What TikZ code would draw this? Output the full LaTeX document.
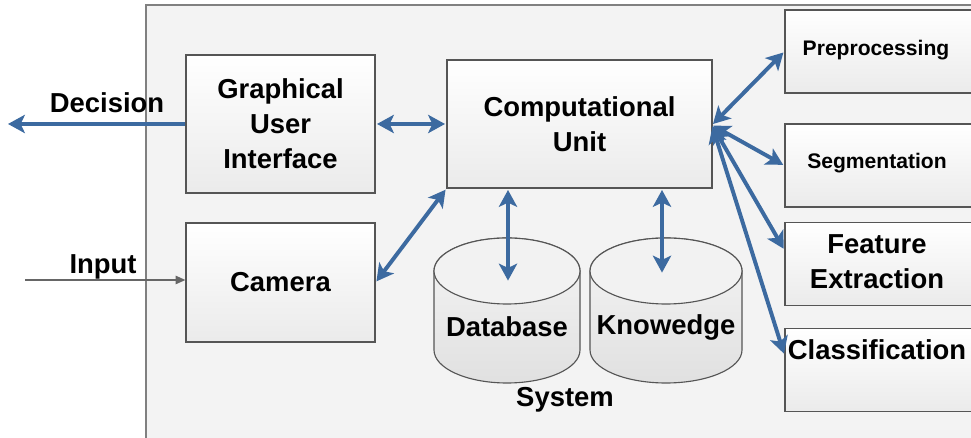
\documentclass[tikz,border=0pt]{standalone}
\usepackage{fontspec}
\setmainfont{Liberation Sans}
\usetikzlibrary{arrows.meta,positioning}
\definecolor{linkblue}{RGB}{60,106,160}
\definecolor{sysfill}{RGB}{243,243,243}
\definecolor{boxline}{RGB}{85,85,85}
\begin{document}
\begin{tikzpicture}[x=0.025cm,y=0.025cm,
	box/.style={draw=boxline,line width=0.8pt,top color=white,bottom color=black!8,inner sep=0pt},
	bigtext/.style={font=\fontsize{19.5}{25}\selectfont\bfseries,align=center},
	smalltext/.style={font=\fontsize{15}{19}\selectfont\bfseries},
	link/.style={draw=linkblue,line width=2.8pt,{Stealth[length=12pt,width=13pt,inset=3pt]}-{Stealth[length=12pt,width=13pt,inset=3pt]},shorten <=1pt,shorten >=1pt},
	outlink/.style={draw=linkblue,line width=2.8pt,-{Stealth[length=12pt,width=13pt,inset=3pt]}},
	inlink/.style={draw=black!60,line width=1pt,-{Triangle[length=7pt,width=6pt]}}]
	\useasboundingbox (0,0) rectangle (971,438);
	\clip (0,0) rectangle (971,438);
	\draw[fill=sysfill,draw=black!50,line width=0.9pt] (146,-10) rectangle (1000,433);
	\node[box,minimum width=4.725cm,minimum height=3.45cm,bigtext] (gui) at (280.5,314) {Graphical\\User\\Interface};
	\node[box,minimum width=4.725cm,minimum height=2.975cm,bigtext] (cam) at (280.5,155.5) {Camera};
	\node[box,minimum width=6.625cm,minimum height=3.2cm,bigtext] (cu) at (579.5,314) {Computational\\Unit};
	\node[box,minimum width=5.125cm,minimum height=2.075cm] (prep) at (887.5,386.5) {};
	\node[box,minimum width=5.125cm,minimum height=2.075cm] (seg) at (887.5,272.5) {};
	\node[box,minimum width=5.125cm,minimum height=2.075cm] (feat) at (887.5,174) {};
	\node[box,minimum width=5.125cm,minimum height=2.075cm] (class) at (887.5,68) {};
	\node[smalltext] (prep-t) at (876,388) {Preprocessing};
	\node[smalltext] (seg-t) at (877,275) {Segmentation};
	\node[bigtext] (feat-t) at (877,176) {Feature\\Extraction};
	\node[bigtext] (class-t) at (877,88) {Classification};
	\draw[draw=boxline,line width=0.8pt,top color=black!4,bottom color=black!12] (434,167) -- (434,88) arc[start angle=180,end angle=360,x radius=73,y radius=33] -- (580,167) arc[start angle=0,end angle=180,x radius=73,y radius=33] -- cycle;
	\draw[draw=boxline,line width=0.8pt,fill=black!5] (507,167) ellipse[x radius=73,y radius=33];
	\draw[draw=boxline,line width=0.8pt,top color=black!4,bottom color=black!12] (590,167) -- (590,88) arc[start angle=180,end angle=360,x radius=76,y radius=33] -- (742,167) arc[start angle=0,end angle=180,x radius=76,y radius=33] -- cycle;
	\draw[draw=boxline,line width=0.8pt,fill=black!5] (666,167) ellipse[x radius=76,y radius=33];
	\node[bigtext] (db) at (507,111) {Database};
	\node[bigtext] (kb) at (666,111) {Knowedge};
	\node[bigtext] (sys) at (565,38) {System};
	\coordinate (dec-end) at (8,314);
	\coordinate (in-start) at (25,158);
	\coordinate (db-in) at (508,156);
	\coordinate (kb-in) at (662,164);
	\coordinate (hub) at (712,313);
	\node[bigtext,anchor=base] (dec-t) at (107,325) {Decision};
	\node[bigtext,anchor=base] (in-t) at (103,164) {Input};
	\draw[outlink] (gui.west) -- (dec-end);
	\draw[inlink] (in-start) -- (in-start -| cam.west);
	\draw[link] (gui.east) -- (cu.west);
	\draw[link] (cam.east) -- (cu.south west);
	\draw[link] (cu.south -| db-in) -- (db-in);
	\draw[link] (cu.south -| kb-in) -- (kb-in);
	\draw[link] (hub) -- (prep.west);
	\draw[link] (hub) -- (seg.west);
	\draw[link] (hub) -- ([yshift=0.35cm]feat.west);
	\draw[link] (hub) -- ([yshift=0.375cm]class.west);
\end{tikzpicture}
\end{document}
